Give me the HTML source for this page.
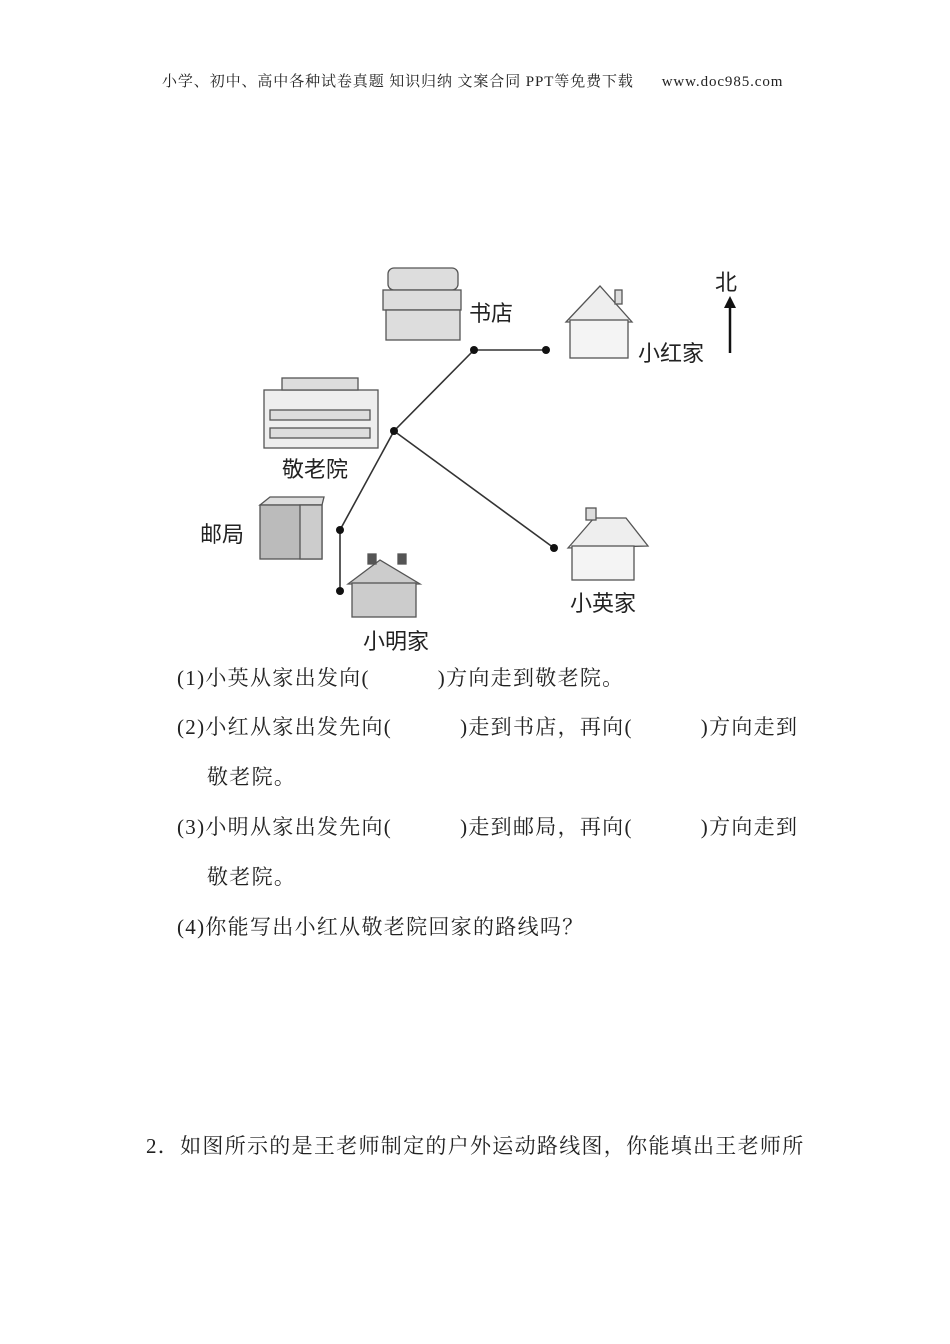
<!DOCTYPE html>
<html><head><meta charset="utf-8"><style>
body{margin:0;width:950px;height:1344px;background:#fff;position:relative;overflow:hidden;font-family:"Liberation Serif","Noto Serif CJK SC",serif;color:#222}
.t{position:absolute;white-space:nowrap}
.q{font-size:21px;letter-spacing:1.3px;font-family:"Liberation Serif","Noto Serif CJK SC",serif}
.b{display:inline-block;width:68px}
.s{font-family:"Noto Sans CJK SC",sans-serif;font-size:22px}
</style></head><body>
<div class="t" style="left:162px;top:70px;font-size:15px;letter-spacing:0.9px">小学、初中、高中各种试卷真题&nbsp;知识归纳&nbsp;文案合同&nbsp;PPT等免费下载&nbsp;&nbsp;&nbsp;&nbsp;&nbsp;&nbsp;www.doc985.com</div>
<svg style="position:absolute;left:0;top:0" width="950" height="700">
<g stroke="#333" stroke-width="1.6" fill="none">
<polyline points="546,350 474,350 394,431 340,530 340,591"/>
<line x1="394" y1="431" x2="554" y2="548"/>
</g>
<g fill="#111"><circle cx="546" cy="350" r="4"/><circle cx="474" cy="350" r="4"/><circle cx="394" cy="431" r="4"/><circle cx="340" cy="530" r="4"/><circle cx="340" cy="591" r="4"/><circle cx="554" cy="548" r="4"/></g>
<line x1="730" y1="353" x2="730" y2="305" stroke="#111" stroke-width="2.5"/>
<polygon points="724,308 736,308 730,296" fill="#111"/>
<g stroke="#555" stroke-width="1.3" fill="#ddd">
<rect x="388" y="268" width="70" height="22" rx="6"/><rect x="383" y="290" width="78" height="20"/><rect x="386" y="310" width="74" height="30"/>
<polygon points="566,322 600,286 632,322" fill="#eee"/><rect x="570" y="320" width="58" height="38" fill="#f4f4f4"/><rect x="615" y="290" width="7" height="14"/>
<rect x="264" y="390" width="114" height="58" fill="#eee"/><rect x="282" y="378" width="76" height="12"/><rect x="270" y="410" width="100" height="10"/><rect x="270" y="428" width="100" height="10"/>
<polygon points="260,505 270,497 324,497 322,505"/><rect x="260" y="505" width="62" height="54" fill="#bbb"/><rect x="300" y="505" width="22" height="54" fill="#ccc"/>
<polygon points="348,584 380,560 420,584" fill="#ccc"/><rect x="352" y="583" width="64" height="34" fill="#ccc"/><rect x="368" y="554" width="8" height="10" fill="#555"/><rect x="398" y="554" width="8" height="10" fill="#555"/>
<polygon points="568,548 594,518 626,518 648,546" fill="#eee"/><rect x="572" y="546" width="62" height="34" fill="#f4f4f4"/><rect x="586" y="508" width="10" height="12"/>
</g>
</svg>
<div class="t s" style="left:715px;top:265px">北</div>
<div class="t s" style="left:469px;top:296px">书店</div>
<div class="t s" style="left:638px;top:336px">小红家</div>
<div class="t s" style="left:282px;top:452px">敬老院</div>
<div class="t s" style="left:200px;top:517px">邮局</div>
<div class="t s" style="left:570px;top:586px">小英家</div>
<div class="t s" style="left:363px;top:624px">小明家</div>
<div class="t q" style="left:177px;top:662px">(1)小英从家出发向(<span class="b"></span>)方向走到敬老院。</div>
<div class="t q" style="left:177px;top:711px">(2)小红从家出发先向(<span class="b"></span>)走到书店，再向(<span class="b"></span>)方向走到</div>
<div class="t q" style="left:207px;top:761px">敬老院。</div>
<div class="t q" style="left:177px;top:811px">(3)小明从家出发先向(<span class="b"></span>)走到邮局，再向(<span class="b"></span>)方向走到</div>
<div class="t q" style="left:207px;top:861px">敬老院。</div>
<div class="t q" style="left:177px;top:911px">(4)你能写出小红从敬老院回家的路线吗？</div>
<div class="t q" style="left:146px;top:1130px">2．如图所示的是王老师制定的户外运动路线图，你能填出王老师所</div>
</body></html>
